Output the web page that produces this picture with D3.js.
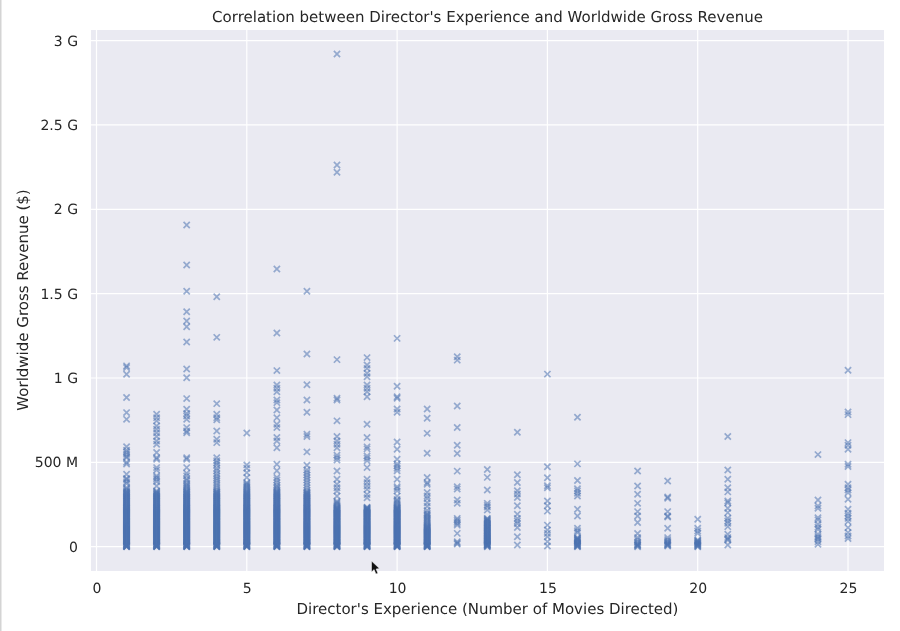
<!DOCTYPE html>
<meta charset="utf-8">
<style>
html, body { margin: 0; background: #fff; }
svg { display: block; font-family: "DejaVu Sans", sans-serif; filter: blur(0.35px); text-rendering: geometricPrecision; }
</style>
<svg width="900" height="631"></svg>
<script src="https://cdn.jsdelivr.net/npm/d3@7"></script>
<script>
// revenue values in millions of dollars per experience level
var chartTitle = "Correlation between Director's Experience and Worldwide Gross Revenue";
var xLabel = "Director's Experience (Number of Movies Directed)";
var yLabel = "Worldwide Gross Revenue ($)";
var xTicks = [0, 5, 10, 15, 20, 25];
var yTicks = [0, 500, 1000, 1500, 2000, 2500, 3000];
var yTickLabels = ["0", "500 M", "1 G", "1.5 G", "2 G", "2.5 G", "3 G"];

// the bottom of the busy columns is a solid band, same reading for all of them
var solidBand = [0, 1, 2, 3, 5, 7, 9, 11, 13, 15, 18, 21, 24, 27, 30, 33, 36, 39, 42, 45, 48, 51, 54, 57, 60, 63, 66, 69, 72, 75, 78, 81, 84, 87, 90, 93, 96, 99, 102, 105, 108, 111, 114, 117, 120];
var midBand = [123, 126, 129, 132, 135, 138, 141, 144, 147, 150, 153, 156, 159, 162, 165, 168, 171, 174, 177, 180, 183, 186, 189, 192, 195, 198, 201, 204, 207, 210, 213, 216, 219, 222, 225, 228, 231, 234];
var highBand = [237, 241, 245, 249, 253, 257, 261, 265, 269, 273, 277, 281, 285, 289, 293, 297, 301, 305, 309, 313, 317, 321, 325];

var exp1 = [1072, 1062, 1022, 884, 795, 755, 593, 572, 560, 548, 535, 528, 500, 490, 430, 405, 398, 385, 375, 350, 343, 335, 328];
var exp2 = [785, 765, 746, 716, 696, 676, 653, 627, 607, 558, 528, 518, 469, 455, 420, 410, 400, 386, 360, 331];
var exp3 = [1907, 1670, 1514, 1393, 1338, 1304, 1213, 1053, 1002, 878, 815, 790, 775, 755, 706, 686, 676, 528, 518, 469, 435, 420, 402, 392, 378, 368, 360, 352, 344, 336, 328];
var exp4 = [1482, 1241, 848, 785, 765, 752, 686, 637, 617, 528, 510, 498, 485, 465, 450, 432, 418, 404, 392, 378, 365, 352, 340, 330];
var exp5 = [674, 485, 465, 439, 410, 380, 373, 366, 359, 352, 345, 338, 331];
var exp6 = [1646, 1267, 1044, 959, 939, 919, 870, 854, 810, 765, 726, 706, 647, 627, 587, 489, 450, 410, 395, 380, 365, 356, 347, 338, 329];
var exp7 = [1514, 1142, 960, 870, 797, 667, 653, 562, 483, 455, 440, 425, 410, 395, 380, 365, 350, 335];
var exp8 = [2921, 2263, 2220, 1109, 880, 870, 746, 653, 627, 607, 587, 542, 528, 514, 449, 400, 370, 350, 330, 300, 270, 263, 256, 249, 242];
var exp9 = [1121, 1077, 1057, 1028, 1008, 959, 939, 919, 889, 726, 647, 592, 580, 538, 525, 510, 469, 400, 380, 360, 340, 310, 290];
var exp10 = [1235, 951, 889, 880, 816, 797, 621, 578, 518, 490, 479, 465, 450, 400, 356, 345, 331, 300, 280, 272, 264, 256, 248, 240];
var exp11 = [816, 761, 672, 554, 410, 380, 370, 321, 301, 285, 261, 240, 215, 200, 193, 186, 179, 172, 165, 158, 151, 144, 137, 130, 124];
var exp12 = [1126, 1106, 834, 707, 601, 553, 448, 356, 342, 277, 257, 168, 158, 148, 138, 128, 79, 30, 22, 16];
var exp13 = [458, 411, 336, 257, 245, 217, 235, 168, 164, 160, 156, 152, 148, 144, 140, 136, 132, 128, 124, 120, 116, 113, 109, 106, 102, 99, 95, 92, 88, 85, 81, 78, 74, 71, 67, 64, 60, 57, 53, 50, 47, 44, 41, 38, 35, 32, 29, 26, 23, 20, 17, 15, 12, 10, 8, 6, 3, 0];
var exp14 = [678, 427, 381, 332, 312, 292, 243, 193, 168, 152, 138, 114, 59, 10];
var exp15 = [1023, 474, 409, 361, 350, 271, 243, 211, 128, 99, 79, 59, 30, 4];
var exp16 = [767, 491, 392, 344, 331, 317, 301, 222, 182, 109, 95, 84, 54, 50, 46, 43, 40, 36, 32, 28, 24, 21, 18, 14, 10, 7, 5, 2, 0];
var exp18 = [449, 360, 311, 257, 208, 182, 143, 78, 54, 42, 30, 22, 14, 11, 8, 4, 0];
var exp19 = [390, 295, 287, 208, 182, 176, 109, 54, 42, 34, 27, 20, 16, 12, 8, 4];
var exp20 = [163, 109, 93, 80, 40, 36, 32, 28, 24, 21, 18, 14, 10, 7, 3, 0];
var exp21 = [653, 455, 400, 350, 325, 271, 261, 228, 202, 169, 153, 139, 119, 74, 54, 46, 40, 10];
var exp24 = [546, 277, 242, 228, 172, 159, 133, 115, 103, 74, 60, 52, 44, 30, 14];
var exp25 = [1046, 799, 783, 617, 601, 578, 489, 475, 370, 350, 336, 320, 281, 222, 198, 182, 168, 149, 113, 84, 64, 48];

var levels = [1, 2, 3, 4, 5, 6, 7, 8, 9, 10, 11, 12, 13, 14, 15, 16, 18, 19, 20, 21, 24, 25];
var revenues = [
    exp1.concat(solidBand, midBand, highBand), exp2.concat(solidBand, midBand, highBand),
    exp3.concat(solidBand, midBand, highBand), exp4.concat(solidBand, midBand, highBand),
    exp5.concat(solidBand, midBand, highBand), exp6.concat(solidBand, midBand, highBand),
    exp7.concat(solidBand, midBand, highBand), exp8.concat(solidBand, midBand),
    exp9.concat(solidBand, midBand), exp10.concat(solidBand, midBand),
    exp11.concat(solidBand), exp12, exp13, exp14, exp15,
    exp16, exp18, exp19, exp20, exp21, exp24, exp25];

var svg = d3.select("svg");
var left = 91, right = 884, top_ = 30, bottom = 571;

var x = d3.scaleLinear().domain([-0.183, 26.197]).range([left, right]);
var y = d3.scaleLinear().domain([-144, 3063]).range([bottom, top_]);

// screenshot edge on the left
svg.append("rect").attr("width", 1.5).attr("height", 631).attr("fill", "#d4d4d4");

svg.append("rect")
    .attr("x", left).attr("y", top_)
    .attr("width", right - left).attr("height", bottom - top_)
    .attr("fill", "#eaeaf2");

var grid = svg.append("g").attr("stroke", "#fff").attr("stroke-width", 1.2);
grid.selectAll(".gx").data(xTicks).enter().append("line")
    .attr("x1", x).attr("x2", x).attr("y1", top_).attr("y2", bottom);
grid.selectAll(".gy").data(yTicks).enter().append("line")
    .attr("y1", y).attr("y2", y).attr("x1", left).attr("x2", right);

var xAxis = d3.axisBottom(x).tickValues(xTicks).tickSize(0).tickPadding(12);
var yAxis = d3.axisLeft(y).tickValues(yTicks).tickSize(0).tickPadding(13)
    .tickFormat(function(d, i) { return yTickLabels[i]; });

svg.append("g").attr("transform", "translate(0," + bottom + ")").call(xAxis);
svg.append("g").attr("transform", "translate(" + left + ",0)").call(yAxis);
svg.selectAll(".domain").remove();
svg.selectAll(".tick text").attr("fill", "#262626")
    .style("font-size", "14px").style("font-family", '"DejaVu Sans", sans-serif');

var marker = d3.symbol().type(d3.symbolX).size(27);

var points = [];
levels.forEach(function(lev, i) {
  revenues[i].forEach(function(v) { points.push({exp: lev, rev: v}); });
});

svg.append("g").selectAll("path").data(points).enter().append("path")
    .attr("d", marker)
    .attr("transform", function(d) { return "translate(" + x(d.exp) + "," + y(d.rev) + ")"; })
    .attr("fill", "none")
    .attr("stroke", "#4c72b0")
    .attr("stroke-width", 1.7)
    .attr("opacity", 0.55);

svg.append("text").attr("x", 487.5).attr("y", 22).attr("text-anchor", "middle")
    .attr("fill", "#262626").style("font-size", "15px").text(chartTitle);
svg.append("text").attr("x", 487.5).attr("y", 613.5).attr("text-anchor", "middle")
    .attr("fill", "#262626").style("font-size", "15px").text(xLabel);
svg.append("text").attr("transform", "translate(28,300) rotate(-90)").attr("text-anchor", "middle")
    .attr("fill", "#262626").style("font-size", "15px").text(yLabel);

// mouse pointer caught in the screenshot
svg.append("path")
    .attr("transform", "translate(371.5,561)")
    .attr("d", "M0,0L0,11L2.6,8.6L4.4,13L6.4,12.2L4.6,8L8,7.6Z")
    .attr("fill", "#111").attr("stroke", "#fff").attr("stroke-width", 0.5);
</script>
